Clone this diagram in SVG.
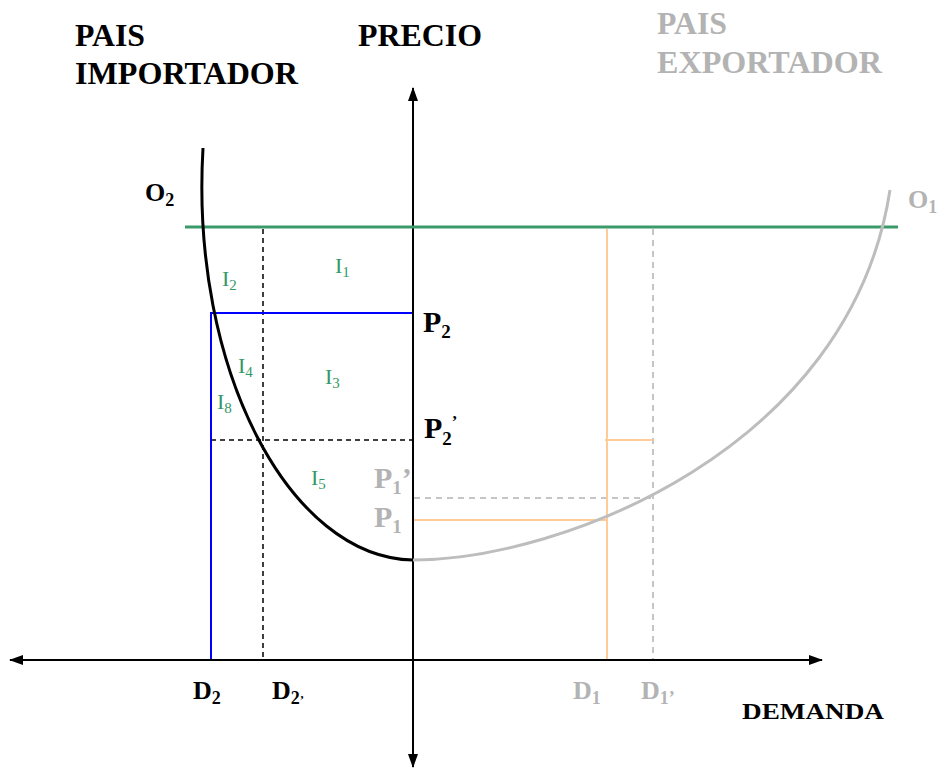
<svg xmlns="http://www.w3.org/2000/svg" width="940" height="769" viewBox="0 0 940 769">
<style>
text{font-family:"Liberation Serif","Times New Roman",serif}
.b{font-weight:bold;fill:#000}
.g{font-weight:bold;fill:#b3b3b3}
.t{font-size:31px}
.gr{fill:#339966;font-size:22px}
.ax{stroke:#000;stroke-width:2;fill:none}
.dk{stroke:#000;stroke-width:1.5;stroke-dasharray:5,4;fill:none}
.dg{stroke:#b3b3b3;stroke-width:1.5;stroke-dasharray:6,5;fill:none}
.or{stroke:#ffcc99;stroke-width:2;fill:none}
.bl{stroke:#0000ff;stroke-width:2;fill:none}
</style>
<defs>
<marker id="ah2" viewBox="0 0 14 10" refX="13" refY="5" markerWidth="14" markerHeight="10" orient="auto-start-reverse" markerUnits="userSpaceOnUse"><path d="M0,0 L14,5 L0,10 z" fill="#000"/></marker>
</defs>
<g id="connectors">
<line x1="413" y1="767" x2="413" y2="88" class="ax" marker-start="url(#ah2)" marker-end="url(#ah2)"/>
<line x1="10" y1="660" x2="822" y2="660" class="ax" marker-start="url(#ah2)" marker-end="url(#ah2)"/>
<line x1="185" y1="227" x2="898" y2="227" stroke="#3a9a6a" stroke-width="3"/>
<line x1="263" y1="229" x2="263" y2="659" class="dk"/>
<line x1="211" y1="440" x2="412" y2="440" class="dk"/>
<line x1="653" y1="229" x2="653" y2="659" class="dg"/>
<line x1="414" y1="498" x2="653" y2="498" class="dg"/>
<line x1="607" y1="229" x2="607" y2="659" class="or"/>
<line x1="414" y1="520" x2="607" y2="520" class="or"/>
<line x1="605" y1="440" x2="653" y2="440" class="or"/>
<polyline points="412,313 211,313 211,659" class="bl"/>
<path d="M413,560 C290,558 190,370 203,148" stroke="#000" stroke-width="3" fill="none"/>
<path d="M413,560 C560,560 850,450 890,190" stroke="#bdbdbd" stroke-width="3" fill="none"/>
</g>
<g id="titles">
<text x="75" y="46" class="b t" textLength="70" lengthAdjust="spacingAndGlyphs">PAIS</text>
<text x="75" y="84" class="b t" textLength="223" lengthAdjust="spacingAndGlyphs">IMPORTADOR</text>
<text x="358" y="46" class="b t" textLength="124" lengthAdjust="spacingAndGlyphs">PRECIO</text>
<text x="657" y="34" class="g t" textLength="70" lengthAdjust="spacingAndGlyphs">PAIS</text>
<text x="657" y="73" class="g t" textLength="225" lengthAdjust="spacingAndGlyphs">EXPORTADOR</text>
</g>
<g id="curve-labels">
<text x="145" y="201" class="b" font-size="26">O<tspan font-size="18" dy="5">2</tspan></text>
<text x="908" y="208" class="g" font-size="26">O<tspan font-size="18" dy="5">1</tspan></text>
</g>
<g id="areas">
<text x="335" y="273" class="gr">I<tspan font-size="15" dy="4">1</tspan></text>
<text x="222" y="286" class="gr">I<tspan font-size="15" dy="4">2</tspan></text>
<text x="325" y="384" class="gr">I<tspan font-size="15" dy="4">3</tspan></text>
<text x="238" y="373" class="gr">I<tspan font-size="15" dy="4">4</tspan></text>
<text x="217" y="409" class="gr">I<tspan font-size="15" dy="4">8</tspan></text>
<text x="311" y="485" class="gr">I<tspan font-size="15" dy="4">5</tspan></text>
</g>
<g id="price-labels">
<text x="423" y="332" class="b" font-size="30">P<tspan font-size="19" dy="6">2</tspan></text>
<text x="424" y="438" class="b" font-size="30">P<tspan font-size="19" dy="7">2</tspan><tspan font-size="17" dy="-18">’</tspan></text>
<text x="374" y="488" class="g" font-size="30">P<tspan font-size="19" dy="6">1</tspan><tspan font-size="30" dy="-6">’</tspan></text>
<text x="374" y="527" class="g" font-size="30">P<tspan font-size="19" dy="6">1</tspan></text>
</g>
<g id="quantity-labels">
<text x="193" y="699" class="b" font-size="26">D<tspan font-size="18" dy="5">2</tspan></text>
<text x="272" y="699" class="b" font-size="26">D<tspan font-size="18" dy="5">2</tspan><tspan font-size="13">’</tspan></text>
<text x="573" y="699" class="g" font-size="26">D<tspan font-size="18" dy="5">1</tspan></text>
<text x="641" y="699" class="g" font-size="26">D<tspan font-size="18" dy="5">1</tspan><tspan font-size="18">’</tspan></text>
<text x="742" y="719" class="b" font-size="24" textLength="142" lengthAdjust="spacingAndGlyphs">DEMANDA</text>
</g>
</svg>
